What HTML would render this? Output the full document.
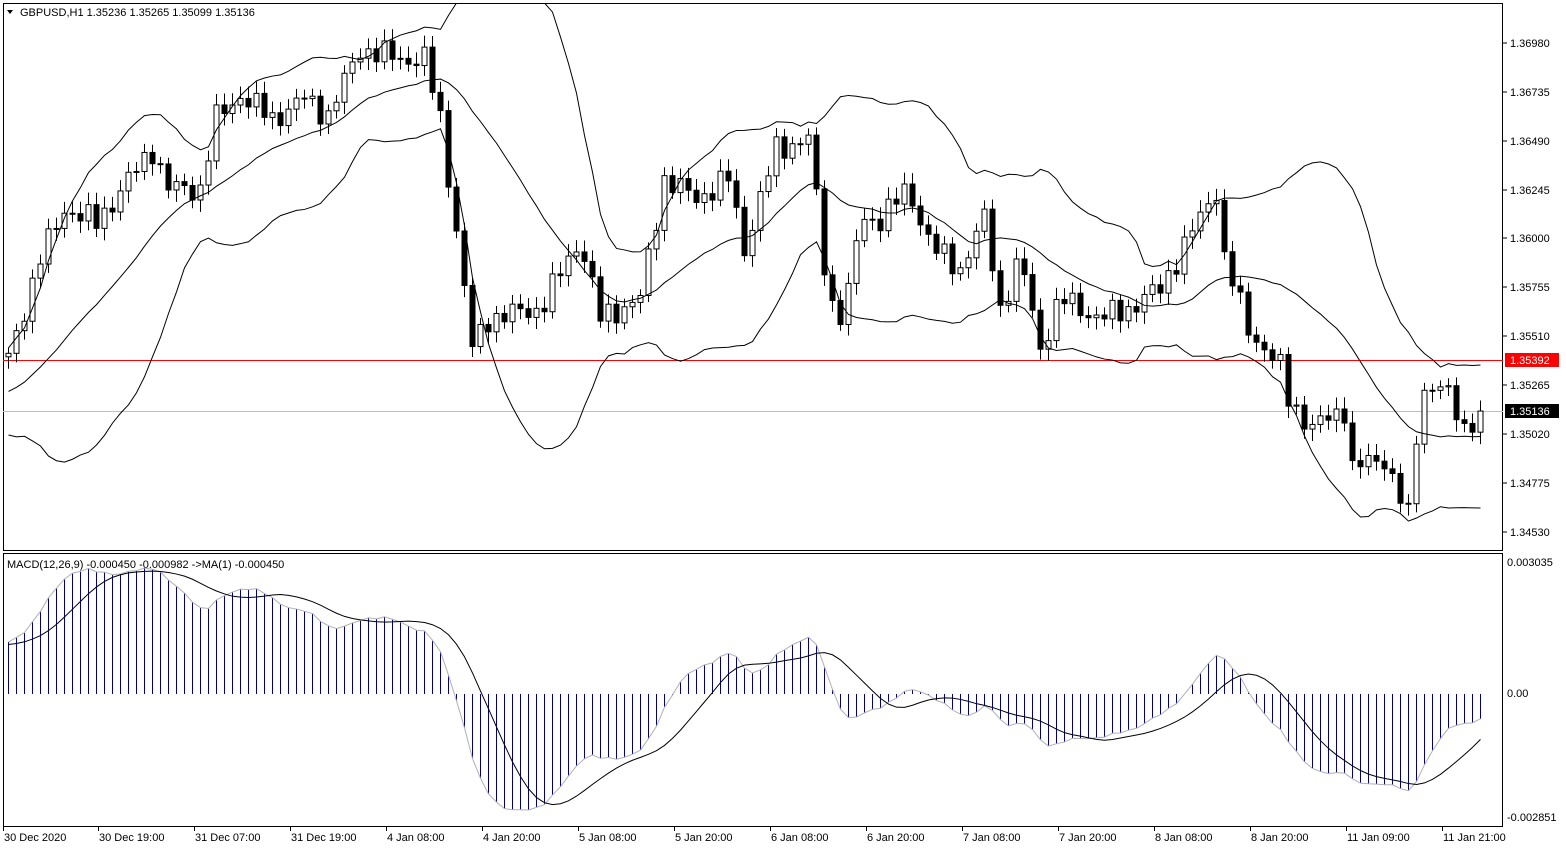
<!DOCTYPE html>
<html><head><meta charset="utf-8"><style>
html,body{margin:0;padding:0;background:#fff;}
svg{display:block;font-family:"Liberation Sans",sans-serif;}
</style></head><body>
<svg id="s" width="1566" height="850" xmlns="http://www.w3.org/2000/svg"></svg>
<script>
var S=document.getElementById('s');var out=[];
function P(p){return 43+(1.36980-p)/0.00245*48.9;}
var keys=[[0,1.3540],[4,1.3590],[7,1.3615],[11,1.3608],[18,1.3645],[20,1.3625],[24,1.3625],[26,1.3660],[29,1.3672],[33,1.3660],[37,1.3670],[40,1.3662],[44,1.3695],[49,1.3690],[52,1.3690],[54,1.3660],[56.5,1.3590],[58,1.3545],[60,1.3560],[66.5,1.3565],[71.5,1.3600],[74,1.3560],[79,1.3570],[82,1.3630],[86,1.3620],[90,1.3630],[92,1.3595],[96,1.3645],[100,1.3650],[101,1.3620],[102.5,1.3570],[104.5,1.3560],[106.5,1.3610],[109,1.3610],[112.5,1.3625],[115.5,1.3595],[119,1.3585],[122,1.3610],[124,1.3565],[126.5,1.3590],[129,1.3545],[131.5,1.3570],[136.5,1.3560],[140,1.3565],[144,1.3575],[147.5,1.3600],[151,1.3625],[152,1.3590],[155,1.3555],[159,1.3535],[160,1.3520],[163,1.3505],[167,1.3515],[168,1.3485],[172,1.3490],[175,1.3460],[176,1.3500],[177,1.3525],[179,1.3527],[182,1.3505],[184,1.35136]];
function interp(i){for(var k=0;k<keys.length-1;k++){var a=keys[k],b=keys[k+1];if(i>=a[0]&&i<=b[0]){return a[1]+(b[1]-a[1])*(i-a[0])/(b[0]-a[0]);}}return keys[keys.length-1][1];}
var N=185,W=40,closes=[];
for(var j=0;j<W;j++){closes.push(1.3470+0.0070*j/W+0.0006*Math.sin(j*1.3));}
for(var i=0;i<N;i++){var n=(i==N-1)?0:0.00045*Math.sin(i*2.7)+0.0003*Math.sin(i*5.1+1);closes.push(interp(i)+n);}
for(var i=0;i<N;i++){var c=closes[W+i],o=closes[W+i-1];var x=8+i*8;
var h=Math.max(o,c)+0.0003+0.0003*Math.abs(Math.sin(i*3.3)),l=Math.min(o,c)-0.0003-0.0003*Math.abs(Math.cos(i*2.1));
out.push('<line x1="'+(x+0.5)+'" x2="'+(x+0.5)+'" y1="'+P(h)+'" y2="'+P(l)+'" stroke="#000"/>');
var t=P(Math.max(o,c)),b=P(Math.min(o,c));if(b-t<1)b=t+1;
out.push('<rect x="'+(x-2)+'" y="'+t+'" width="5" height="'+(b-t)+'" fill="'+(c>=o?'#fff':'#000')+'" stroke="#000"/>');}
var up=[],md=[],lo=[];
for(var i=0;i<N;i++){var s=0;for(var k=0;k<20;k++)s+=closes[W+i-k];var m=s/20,v=0;for(var k=0;k<20;k++)v+=Math.pow(closes[W+i-k]-m,2);var sd=Math.sqrt(v/20);var x=8+i*8+0.5;
up.push(x+','+Math.max(P(m+2*sd),3));md.push(x+','+P(m));lo.push(x+','+Math.min(P(m-2*sd),550));}
out.push('<g clip-path="url(#c1)" fill="none" stroke="#000" stroke-width="1"><polyline points="'+up.join(' ')+'"/><polyline points="'+md.join(' ')+'"/><polyline points="'+lo.join(' ')+'"/></g>');
function ema(a,p){var r=[],k=2/(p+1),e=a[0];for(var i=0;i<a.length;i++){e=a[i]*k+e*(1-k);r.push(e);}return r;}
var e12=ema(closes,12),e26=ema(closes,26),mac=closes.map(function(_,i){return e12[i]-e26[i];});
var sig=[];for(var i=0;i<mac.length;i++){var s=0,c=0;for(var k=0;k<9&&i-k>=0;k++){s+=mac[i-k];c++;}sig.push(s/c);}
var mx=0,mn=0;for(var i=W;i<W+N;i++){mx=Math.max(mx,mac[i],sig[i]);mn=Math.min(mn,mac[i],sig[i]);}
function M(v){return v>=0?694-v/mx*126:694+v/mn*116;}
var sp=[],hp=[];
for(var i=0;i<N;i++){var x=8+i*8+0.5;out.push('<line x1="'+x+'" x2="'+x+'" y1="694" y2="'+M(mac[W+i])+'" stroke="#000080" stroke-width="1"/>');
hp.push(x+','+M(mac[W+i]));sp.push(x+','+M(sig[W+i]));}
out.push('<polyline points="'+hp.join(' ')+'" fill="none" stroke="#b0b0b0"/>');
out.push('<polyline points="'+sp.join(' ')+'" fill="none" stroke="#000"/>');
var g='';
g+='<defs><clipPath id="c1"><rect x="3" y="3" width="1500" height="547"/></clipPath></defs>';
g+='<rect x="3.5" y="3.5" width="1499" height="547" fill="none" stroke="#000"/>';
g+='<rect x="3.5" y="553.5" width="1499" height="273" fill="none" stroke="#000"/>';
g+='<line x1="3" x2="1503" y1="411.5" y2="411.5" stroke="#c0c0c0"/>';
g+='<line x1="3" x2="1503" y1="360.5" y2="360.5" stroke="#f00"/>';
var pl=[["1.36980",43],["1.36735",92],["1.36490",141],["1.36245",190],["1.36000",238],["1.35755",287],["1.35510",336],["1.35265",385],["1.35020",434],["1.34775",483],["1.34530",532]];
pl.forEach(function(a){g+='<line x1="1503" x2="1507" y1="'+a[1]+'" y2="'+a[1]+'" stroke="#000"/><text x="1510" y="'+(a[1]+4)+'" font-size="11">'+a[0]+'</text>';});
g+='<rect x="1505" y="353" width="54" height="14" fill="#f00"/><text x="1510" y="364" font-size="11" fill="#fff">1.35392</text>';
g+='<rect x="1505" y="404" width="54" height="14" fill="#000"/><text x="1510" y="415" font-size="11" fill="#fff">1.35136</text>';
[["0.003035",566],["0.00",697],["-0.002851",821]].forEach(function(a){g+='<text x="1507" y="'+a[1]+'" font-size="11">'+a[0]+'</text>';});
var xl=["30 Dec 2020","30 Dec 19:00","31 Dec 07:00","31 Dec 19:00","4 Jan 08:00","4 Jan 20:00","5 Jan 08:00","5 Jan 20:00","6 Jan 08:00","6 Jan 20:00","7 Jan 08:00","7 Jan 20:00","8 Jan 08:00","8 Jan 20:00","11 Jan 09:00","11 Jan 21:00"];
xl.forEach(function(t,i){var x=i==0?3:2+i*96;g+='<line x1="'+(x+0.5)+'" x2="'+(x+0.5)+'" y1="827" y2="831" stroke="#000"/><text x="'+(x+1)+'" y="841" font-size="11">'+t+'</text>';});
g+='<path d="M7,10 L13,10 L10,14 Z" fill="#000"/><text x="20" y="16" font-size="11">GBPUSD,H1  1.35236 1.35265 1.35099 1.35136</text>';
g+='<text x="7" y="568" font-size="11">MACD(12,26,9) -0.000450 -0.000982  -&gt;MA(1) -0.000450</text>';
S.innerHTML=g+out.join('');
</script>
</body></html>
